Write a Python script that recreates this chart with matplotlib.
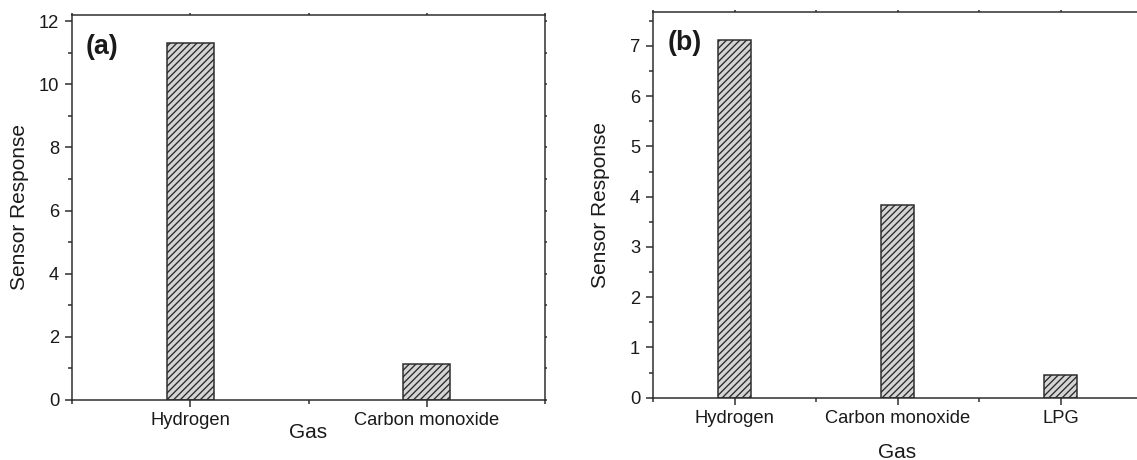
import matplotlib
matplotlib.use("Agg")
import matplotlib.pyplot as plt
from matplotlib.ticker import MultipleLocator, FixedLocator

plt.rcParams['font.family'] = ['Liberation Sans', 'DejaVu Sans']
plt.rcParams['hatch.linewidth'] = 0.8

# Sensor response data
gases_a = ["Hydrogen", "Carbon monoxide"]
response_a = [11.3, 1.13]

gases_b = ["Hydrogen", "Carbon monoxide", "LPG"]
response_b = [7.11, 3.84, 0.46]

DPI = 120
fig = plt.figure(figsize=(1137 / DPI, 460 / DPI), dpi=DPI)

ink = "#2b2b2b"
fill = "#d4d4d4"
text_c = "#1a1a1a"


def style_axis(ax, n, ymax, ymajor, yminor):
    ax.set_xlim(-0.5, n - 0.5)
    ax.set_ylim(0, ymax)
    ax.xaxis.set_major_locator(FixedLocator(range(n)))
    ax.xaxis.set_minor_locator(FixedLocator([i + 0.5 for i in range(-1, n)]))
    ax.yaxis.set_major_locator(MultipleLocator(ymajor))
    ax.yaxis.set_minor_locator(MultipleLocator(yminor))
    ax.tick_params(axis='both', which='major', direction='out', length=4.2,
                   width=0.9, color=ink, labelsize=11, labelcolor=text_c)
    ax.tick_params(axis='both', which='minor', direction='out', length=2.4,
                   width=0.9, color=ink)
    ax.tick_params(axis='x', which='major', pad=3)
    ax.tick_params(axis='y', which='major', pad=3.5)
    ax.tick_params(top=True, right=True, which='both')
    for t in ax.xaxis.get_major_ticks() + ax.xaxis.get_minor_ticks():
        t.tick2line.set_markersize(1.0)
    for t in ax.yaxis.get_major_ticks() + ax.yaxis.get_minor_ticks():
        t.tick2line.set_markersize(1.0)
    for s in ax.spines.values():
        s.set_linewidth(0.9)
        s.set_color(ink)


# Panel (a)
ax1 = fig.add_axes([72 / 1137, 60 / 460, 473 / 1137, 385 / 460])
ax1.bar(range(len(gases_a)), response_a, width=0.2, color=fill,
        edgecolor=ink, linewidth=0.9, hatch='//////')
style_axis(ax1, len(gases_a), 12.19, 2, 1)
ax1.set_xticklabels(gases_a)
ax1.set_xlabel("Gas", fontsize=12.5, color=text_c)
ax1.set_ylabel("Sensor Response", fontsize=12.5, color=text_c)
ax1.xaxis.set_label_coords(0.5, -0.06)
ax1.yaxis.set_label_coords(-0.09, 0.5)
ax1.text(0.028, 0.95, "(a)", transform=ax1.transAxes, fontsize=16,
         fontweight='bold', ha='left', va='top', color=text_c)

# Panel (b)
ax2 = fig.add_axes([653 / 1137, 62.3 / 460, 489 / 1137, 385.4 / 460])
ax2.bar(range(len(gases_b)), response_b, width=0.2, color=fill,
        edgecolor=ink, linewidth=0.9, hatch='//////')
style_axis(ax2, len(gases_b), 7.67, 1, 0.5)
ax2.set_xticklabels(gases_b)
ax2.set_xlabel("Gas", fontsize=12.5, color=text_c)
ax2.set_ylabel("Sensor Response", fontsize=12.5, color=text_c)
ax2.xaxis.set_label_coords(0.5, -0.118)
ax2.yaxis.set_label_coords(-0.087, 0.5)
ax2.text(0.03, 0.955, "(b)", transform=ax2.transAxes, fontsize=16,
         fontweight='bold', ha='left', va='top', color=text_c)

fig.savefig("out.png", dpi=DPI)
